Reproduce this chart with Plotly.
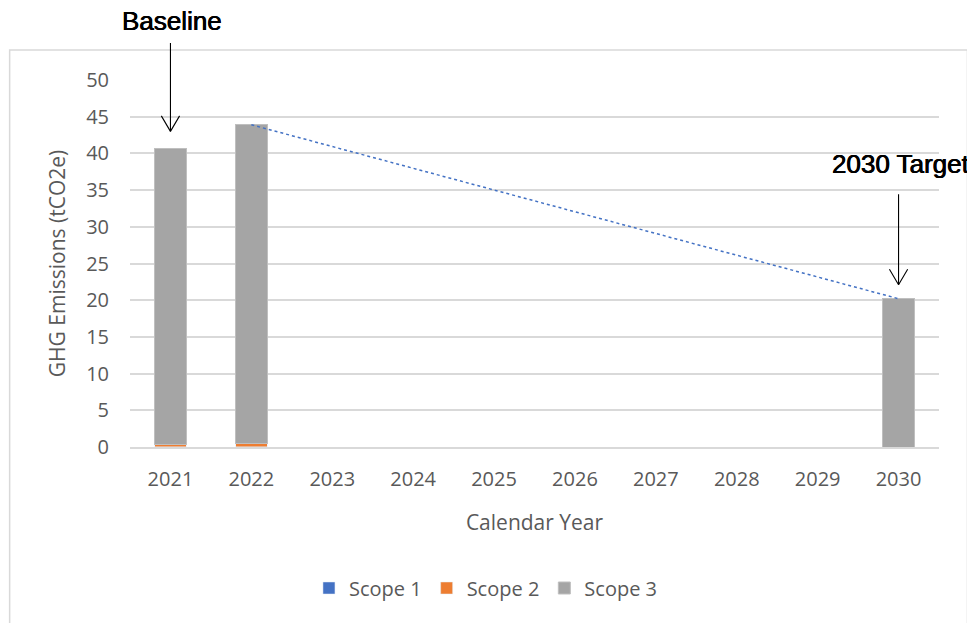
import plotly.graph_objects as go

years = [2021, 2022, 2023, 2024, 2025, 2026, 2027, 2028, 2029, 2030]
scope1 = [0.02, 0.02, None, None, None, None, None, None, None, 0.0]
scope2 = [0.3, 0.5, None, None, None, None, None, None, None, 0.0]
scope3 = [40.3, 43.4, None, None, None, None, None, None, None, 20.2]
trend_years = [2022, 2030]
trend_values = [43.9, 20.2]
y_ticks = [0, 5, 10, 15, 20, 25, 30, 35, 40, 45, 50]

baseline_year, baseline_tip = 2021, 43.0
target_year, target_tip = 2030, 22.1

FONT = "Open Sans"
GRAY = "#595959"
OFF = 8  # page body margin

# plot area in page pixels
PL, PR, PT, PB = 129.5, 939.5, 80, 447
PW, PH = PR - PL, PB - PT

def px_to_paper_y(py):
    return (PB - py) / PH

def px_to_paper_x(px):
    return (px - PL) / PW

fig = go.Figure()
fig.add_bar(x=years, y=scope1, name="Scope 1", marker_color="#4472C4", width=0.39)
fig.add_bar(x=years, y=scope2, name="Scope 2", marker_color="#ED7D31", width=0.39)
fig.add_bar(x=years, y=scope3, name="Scope 3", marker_color="#A5A5A5",
            marker_line=dict(color="#BFBFBF", width=1), width=0.39)
fig.add_scatter(x=trend_years, y=trend_values, mode="lines", showlegend=False,
                line=dict(color="#4472C4", width=1.5, dash="dot"), hoverinfo="skip")

annotations = []
for yr, tip, length, label, ty_px in [
    (baseline_year, baseline_tip, 90, "Baseline", 21),
    (target_year, target_tip, 92, "2030 Target", 164),
]:
    for ax, ay in [(0, -length), (-10, -17), (10, -17)]:
        annotations.append(dict(x=yr, y=tip, xref="x", yref="y", text="", showarrow=True,
                                arrowhead=0, arrowwidth=1.1, arrowcolor="#000000",
                                ax=ax, ay=ay, axref="pixel", ayref="pixel"))
    annotations.append(dict(x=yr, y=px_to_paper_y(ty_px), xref="x", yref="paper", text=label,
                            showarrow=False, xanchor="center", yanchor="middle", xshift=2,
                            font=dict(family="Liberation Sans", size=26, color="#000000",
                                      shadow="0.35px 0 0 #000, -0.35px 0 0 #000")))

fig.update_layout(
    width=975, height=623,
    margin=dict(l=PL - OFF, r=975 + OFF - PR, t=PT - OFF, b=623 + OFF - PB),
    paper_bgcolor="white", plot_bgcolor="white",
    barmode="stack",
    font=dict(family=FONT, size=20, color=GRAY),
    legend=dict(orientation="h", x=0.44, xanchor="center", y=px_to_paper_y(588),
                yanchor="middle", font=dict(family=FONT, size=20, color=GRAY),
                traceorder="normal"),
    annotations=annotations,
    shapes=[dict(type="rect", xref="paper", yref="paper",
                 x0=px_to_paper_x(9), x1=px_to_paper_x(968),
                 y0=px_to_paper_y(660), y1=px_to_paper_y(50),
                 line=dict(color="#D9D9D9", width=1.5), layer="below")],
)
fig.update_xaxes(range=[2020.5, 2030.5], tickvals=years, ticktext=[str(y) for y in years],
                 showgrid=False, showline=True, linecolor="#D9D9D9", linewidth=1.5,
                 ticks="", ticklabelstandoff=13,
                 title=dict(text="Calendar Year", standoff=25, font=dict(size=21, color=GRAY)))
fig.update_yaxes(range=[0, 50], tickvals=y_ticks, showgrid=True, gridcolor="#D9D9D9",
                 gridwidth=1.5, zeroline=False, ticks="", ticklabelstandoff=20,
                 title=dict(text="GHG Emissions (tCO2e)", standoff=14, font=dict(size=21, color=GRAY)))

fig.write_html("out.html")
